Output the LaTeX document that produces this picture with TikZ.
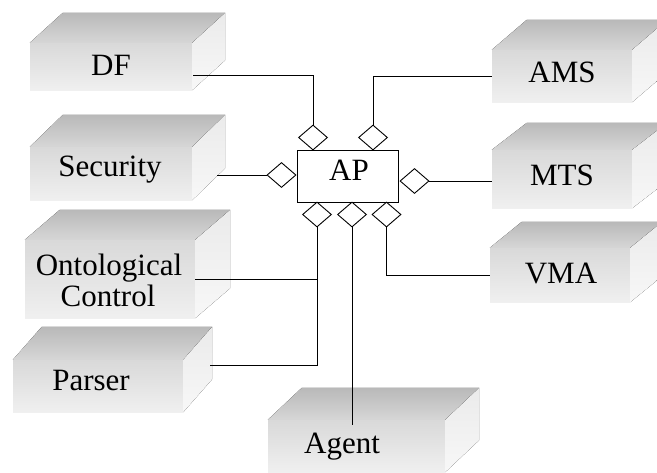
\documentclass[tikz,border=0pt]{standalone}
\usepackage{fontspec}
\setmainfont{Liberation Serif}
\usetikzlibrary{shapes.geometric,calc}
\tikzset{
  front/.style={rectangle, inner sep=0pt, draw=none, top color=gray!30, bottom color=gray!12},
  topface/.style={top color=gray!55, bottom color=gray!32},
  sideface/.style={top color=gray!16, bottom color=gray!6},
  lbl/.style={anchor=base, inner sep=0pt, font=\fontsize{31}{28}\selectfont},
  dia/.style={diamond, draw=black, line width=0.9pt, fill=white, inner sep=0pt, minimum width=29pt, minimum height=25pt},
  apbox/.style={rectangle, draw=black, line width=0.9pt, fill=white, minimum width=101pt, minimum height=52pt, inner sep=0pt},
  conn/.style={line width=0.9pt, draw=black}
}
\newcommand\slabfaces[3]{%
  \fill[topface] (#1.north west) -- ($(#1.north west)+(#2,#3)$) -- ($(#1.north east)+(#2,#3)$) -- (#1.north east) -- cycle;
  \fill[sideface] (#1.north east) -- ($(#1.north east)+(#2,#3)$) -- ($(#1.south east)+(#2,#3)$) -- (#1.south east) -- cycle;
}
\begin{document}
\begin{tikzpicture}[x=1pt,y=-1pt]
\useasboundingbox[fill=white] (0,0) rectangle (657,472);
% slabs (front faces)
\node[front, minimum width=162pt, minimum height=47pt] (df)  at (111,66.5) {};
\node[front, minimum width=162pt, minimum height=53pt] (sec) at (111,173.5) {};
\node[front, minimum width=170pt, minimum height=78pt] (ont) at (110,279) {};
\node[front, minimum width=170pt, minimum height=52pt] (par) at (98,386) {};
\node[front, minimum width=177pt, minimum height=52pt] (agt) at (356.5,446) {};
\node[front, minimum width=140pt, minimum height=52pt] (ams) at (562,76) {};
\node[front, minimum width=140pt, minimum height=58pt] (mts) at (562,179) {};
\node[front, minimum width=140pt, minimum height=54pt] (vma) at (560,275) {};
\slabfaces{df}{33}{-30}
\slabfaces{sec}{33}{-32}
\slabfaces{ont}{35}{-30}
\slabfaces{par}{29}{-33}
\slabfaces{agt}{34}{-32}
\slabfaces{ams}{35}{-30}
\slabfaces{mts}{35}{-27}
\slabfaces{vma}{32}{-26}
% labels
\node[lbl] (dft)  at (111,75) {DF};
\node[lbl] (sect) at (110,176) {Security};
\node[lbl] (ont1) at (109,275) {Ontological};
\node[lbl] (ont2) at (108,306) {Control};
\node[lbl] (part) at (91,390) {Parser};
\node[lbl] (agtt) at (342,453) {Agent};
\node[lbl] (amst) at (562,82) {AMS};
\node[lbl] (mtst) at (562,185) {MTS};
\node[lbl] (vmat) at (561,283) {VMA};
% AP and diamonds
\node[apbox] (ap) at (347.5,176) {};
\node[lbl] (apt) at (349,180) {AP};
\node[dia] (dtl) at (313,137.5) {};
\node[dia] (dtr) at (373,137.5) {};
\node[dia] (dl)  at (281.5,175) {};
\node[dia] (dr)  at (414.5,181) {};
\node[dia] (db1) at (317,214.5) {};
\node[dia] (db2) at (352,214.5) {};
\node[dia] (db3) at (386.5,214.5) {};
% free ends
\coordinate (dfend)  at (193,75);
\coordinate (secend) at (217,175);
\coordinate (parend) at (210,365);
\coordinate (agtend) at (352,425);
% connectors
\draw[conn] (dtl.north) |- (dfend);
\draw[conn] (dtr.north) |- (ams.west);
\draw[conn] (dl.west) -- (secend);
\draw[conn] (dr.east) -- (dr.east -| mts.west);
\draw[conn] (db1.south) |- (ont.east);
\draw[conn] (db1.south) |- (parend);
\draw[conn] (db2.south) -- (agtend);
\draw[conn] (db3.south) |- (vma.west);
\end{tikzpicture}
\end{document}
